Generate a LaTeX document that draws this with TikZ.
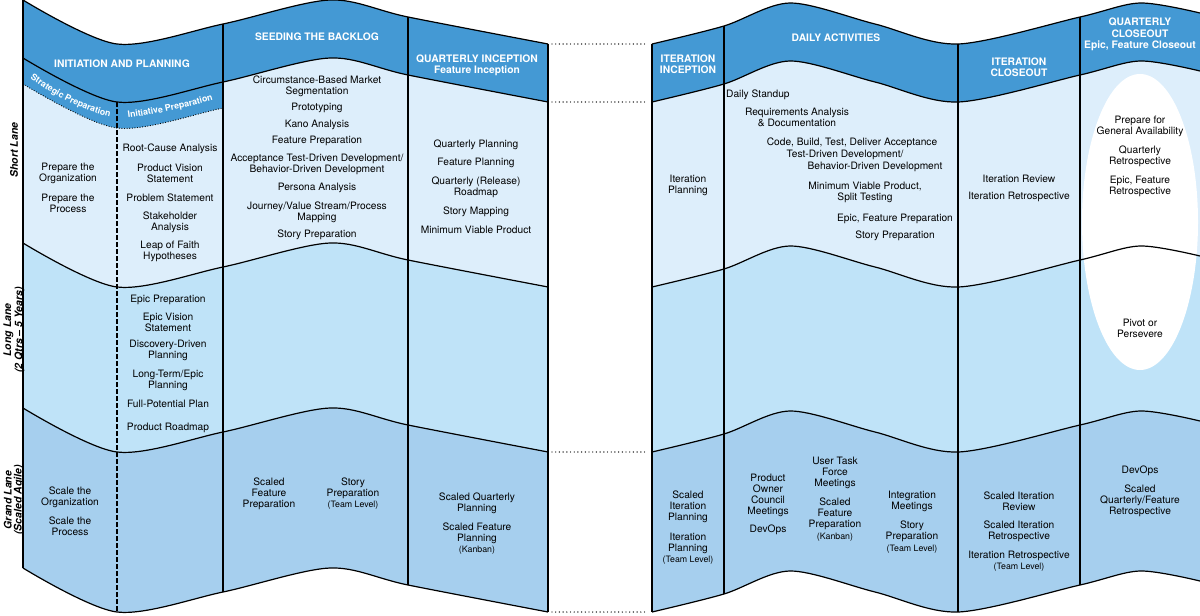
\documentclass[tikz,border=0pt]{standalone}
\usepackage{fontspec}
\setmainfont{TeX Gyre Heros}
\usetikzlibrary{positioning, decorations.text}

\definecolor{hdrblue}{RGB}{68,153,212}
\definecolor{shortblue}{RGB}{221,238,251}
\definecolor{longblue}{RGB}{191,227,248}
\definecolor{grandblue}{RGB}{166,207,238}

% wave shapes of the two panels, shifted down by #1
\newcommand{\leftwave}[1]{plot[smooth] coordinates {(23,{#1}) (117,{#1+44}) (223,{#1+24}) (330,{#1}) (408,{#1+17}) (548,{#1+44})}}
\newcommand{\rightwave}[1]{plot[smooth] coordinates {(652,{#1+44}) (724,{#1+26}) (790,{#1+3}) (875,{#1+24}) (958,{#1+44}) (1080,{#1+17}) (1140,{#1+3}) (1200,{#1+13})}}
% band between two waves
\newcommand{\leftband}[2]{plot[smooth] coordinates {(23,{#1}) (117,{#1+44}) (223,{#1+24}) (330,{#1}) (408,{#1+17}) (548,{#1+44})}
    -- plot[smooth] coordinates {(548,{#2+44}) (408,{#2+17}) (330,{#2}) (223,{#2+24}) (117,{#2+44}) (23,{#2})} -- cycle}
\newcommand{\rightband}[2]{plot[smooth] coordinates {(652,{#1+44}) (724,{#1+26}) (790,{#1+3}) (875,{#1+24}) (958,{#1+44}) (1080,{#1+17}) (1140,{#1+3}) (1200,{#1+13})}
    -- plot[smooth] coordinates {(1200,{#2+13}) (1140,{#2+3}) (1080,{#2+17}) (958,{#2+44}) (875,{#2+24}) (790,{#2+3}) (724,{#2+26}) (652,{#2+44})} -- cycle}
\newcommand{\sm}[1]{{\fontsize{8.8}{11}\selectfont #1}}

\begin{document}
\begin{tikzpicture}[
    x=1pt, y=-1pt,
    item/.style={align=center, inner sep=0pt, font=\fontsize{10.2}{11.2}\selectfont},
    head/.style={align=center, inner sep=0pt, text=white, font=\bfseries\fontsize{10.3}{11.3}\selectfont},
    bandtext/.style={decorate, decoration={text along path, text align=center,
        text={|\color{white}\bfseries\fontsize{8.8}{9}\selectfont|#1}}},
    lane/.style={align=center, inner sep=0pt, rotate=90, font=\bfseries\itshape\fontsize{10.5}{10}\selectfont},
    edge/.style={line width=1.2pt, line join=round},
    dotline/.style={line width=1.4pt, line cap=round, dash pattern=on 0pt off 3.7pt},
    dashline/.style={line width=1.1pt, dash pattern=on 4.5pt off 2.5pt}
]
\useasboundingbox (0,0) rectangle (1200,616);

% Lane fills
\fill[shortblue] \leftband{58}{243};
\fill[longblue] \leftband{243}{408};
\fill[grandblue] \leftband{408}{568};
\fill[shortblue] \rightband{58}{243};
\fill[longblue] \rightband{243}{408};
\fill[grandblue] \rightband{408}{568};

% Closeout ellipse
\fill[white] (1140,222) ellipse [x radius=58, y radius=148];

% Headers
\fill[hdrblue] \leftband{0}{58};
\fill[hdrblue] \rightband{0}{58};
\begin{scope}
    \clip (23,0) rectangle (223,200);
    \fill[hdrblue] \leftband{58}{84};
    \draw[dotline, line width=1.2pt, dash pattern=on 0pt off 2.6pt] \leftwave{84};
\end{scope}

% Wave borders
\foreach \off in {0,58,243,408,568} {
    \draw[edge] \leftwave{\off};
    \draw[edge] \rightwave{\off};
}

% Column borders
\coordinate (lTop) at (548,44);   \coordinate (rTop) at (652,44);
\coordinate (lHead) at (548,102); \coordinate (rHead) at (652,102);
\coordinate (lLong) at (548,452); \coordinate (rLong) at (652,452);
\coordinate (lBot) at (548,612);  \coordinate (rBot) at (652,612);
\draw[edge] (23,0) -- (23,568);
\draw[dashline] (117,102) -- (117,612);
\draw[edge] (223,24) -- (223,592);
\draw[edge] (408,17) -- (408,585);
\draw[edge] (lTop) -- (lBot);
\draw[edge] (rTop) -- (rBot);
\draw[edge] (724,26) -- (724,594);
\draw[edge] (958,44) -- (958,612);
\draw[edge] (1080,17) -- (1080,585);

% Dotted gap between the panels
\draw[dotline, shorten <=4pt, shorten >=4pt] (lTop) -- (rTop);
\draw[dotline, shorten <=4pt, shorten >=4pt] (lHead) -- (rHead);
\draw[dotline, shorten <=4pt, shorten >=4pt] (lLong) -- (rLong);
\draw[dotline, shorten <=4pt, shorten >=4pt] (lBot) -- (rBot);

% Header texts
\node[head] (hInit) at (122,64) {INITIATION AND PLANNING};
\node[head] (hSeed) at (317,37) {SEEDING THE BACKLOG};
\node[head] (hQInc) at (477,65.5) {QUARTERLY INCEPTION\\Feature Inception};
\node[head] (hIInc) at (688,64.5) {ITERATION\\INCEPTION};
\node[head] (hDaily) at (836,38) {DAILY ACTIVITIES};
\node[head] (hIClose) at (1019,67.5) {ITERATION\\CLOSEOUT};
\node[head] (hQClose) at (1140,34.5) {QUARTERLY\\CLOSEOUT\\Epic, Feature Closeout};
\path[bandtext={Strategic Preparation}] (25,75) .. controls (50,93) and (82,112) .. (116,118);
\path[bandtext={Initiative Preparation}] (119,119) .. controls (150,116) and (190,107) .. (222,97);

% Lane labels
\node[lane] (shortLane) at (14,150) {Short Lane};
\node[lane] (longLane) at (14,330) {Long Lane\\(2 Qtrs – 5 Years)};
\node[lane] (grandLane) at (14,500) {Grand Lane\\(Scaled Agile)};

% Short lane
\node[item] (sPrepOrg) at (68,173.5) {Prepare the\\Organization};
\node[item] (sPrepProc) at (68,203.5) {Prepare the\\Process};
\node[item] (sRootCause) at (170,149) {Root-Cause Analysis};
\node[item] (sVision) at (170,173.5) {Product Vision\\Statement};
\node[item] (sProblem) at (170,198) {Problem Statement};
\node[item] (sStake) at (170,222) {Stakeholder\\Analysis};
\node[item] (sLeap) at (170,251.5) {Leap of Faith\\Hypotheses};
\node[item] (sCirc) at (317,86) {Circumstance-Based Market\\Segmentation};
\node[item] (sProto) at (317,108) {Prototyping};
\node[item] (sKano) at (317,124.5) {Kano Analysis};
\node[item] (sFeatPrep) at (317,141) {Feature Preparation};
\node[item] (sATDD) at (317,164) {Acceptance Test-Driven Development/\\Behavior-Driven Development};
\node[item] (sPersona) at (317,188) {Persona Analysis};
\node[item] (sJourney) at (317,212) {Journey/Value Stream/Process\\Mapping};
\node[item] (sStoryPrep) at (317,235) {Story Preparation};
\node[item] (sQPlan) at (476,145) {Quarterly Planning};
\node[item] (sFPlan) at (476,163) {Feature Planning};
\node[item] (sRoadmap) at (476,187.5) {Quarterly (Release)\\Roadmap};
\node[item] (sStoryMap) at (476,212) {Story Mapping};
\node[item] (sMVP) at (476,230) {Minimum Viable Product};
\node[item] (rIterPlan) at (688,185.5) {Iteration\\Planning};
\node[item, anchor=west] (rStandup) at (726,95) {Daily Standup};
\node[item] (rReq) at (797,117.5) {Requirements Analysis\\\& Documentation};
\node[item] (rCode) at (852,143) {Code, Build, Test, Deliver Acceptance};
\node[item] (rTDD) at (845,155) {Test-Driven Development/};
\node[item] (rBDD) at (875,167) {Behavior-Driven Development};
\node[item] (rMVP) at (865,192) {Minimum Viable Product,\\Split Testing};
\node[item] (rEpicFeat) at (895,219) {Epic, Feature Preparation};
\node[item] (rStoryPrep) at (895,236) {Story Preparation};
\node[item] (rIterReview) at (1019,179) {Iteration Review};
\node[item] (rIterRetro) at (1019,197) {Iteration Retrospective};
\node[item] (qPrepGA) at (1140,126.5) {Prepare for\\General Availability};
\node[item] (qQRetro) at (1140,156.5) {Quarterly\\Retrospective};
\node[item] (qEFRetro) at (1140,186.5) {Epic, Feature\\Retrospective};

% Long lane
\node[item] (lEpicPrep) at (168,300) {Epic Preparation};
\node[item] (lEpicVision) at (168,322.5) {Epic Vision\\Statement};
\node[item] (lDiscovery) at (168,350.5) {Discovery-Driven\\Planning};
\node[item] (lLongTerm) at (168,380) {Long-Term/Epic\\Planning};
\node[item] (lFullPot) at (168,404) {Full-Potential Plan};
\node[item] (lRoadmap) at (168,428) {Product Roadmap};
\node[item] (qPivot) at (1140,328.5) {Pivot or\\Persevere};

% Grand lane
\node[item] (gScaleOrg) at (70,497.5) {Scale the\\Organization};
\node[item] (gScaleProc) at (70,526.5) {Scale the\\Process};
\node[item] (gScaledFeat) at (269,494) {Scaled\\Feature\\Preparation};
\node[item] (gStoryPrep) at (353,493.5) {Story\\Preparation\\\sm{(Team Level)}};
\node[item] (gSQPlan) at (477,503) {Scaled Quarterly\\Planning};
\node[item] (gSFPlan) at (477,538.5) {Scaled Feature\\Planning\\\sm{(Kanban)}};
\node[item] (gSIterPlan) at (688,507) {Scaled\\Iteration\\Planning};
\node[item] (gIterPlanTeam) at (688,548.5) {Iteration\\Planning\\\sm{(Team Level)}};
\node[item] (gPOCouncil) at (768,495.5) {Product\\Owner\\Council\\Meetings};
\node[item] (gDevOpsA) at (768,530) {DevOps};
\node[item] (gUserTask) at (835,473) {User Task\\Force\\Meetings};
\node[item] (gSFeatPrep) at (835,519.5) {Scaled\\Feature\\Preparation\\\sm{(Kanban)}};
\node[item] (gIntegration) at (912,501) {Integration\\Meetings};
\node[item] (gStoryTeam) at (912,537) {Story\\Preparation\\\sm{(Team Level)}};
\node[item] (gSIterReview) at (1019,501) {Scaled Iteration\\Review};
\node[item] (gSIterRetro) at (1019,531) {Scaled Iteration\\Retrospective};
\node[item] (gIterRetroTeam) at (1019,561) {Iteration Retrospective\\\sm{(Team Level)}};
\node[item] (gDevOpsB) at (1140,471) {DevOps};
\node[item] (gSQFRetro) at (1140,500.5) {Scaled\\Quarterly/Feature\\Retrospective};

\end{tikzpicture}
\end{document}
